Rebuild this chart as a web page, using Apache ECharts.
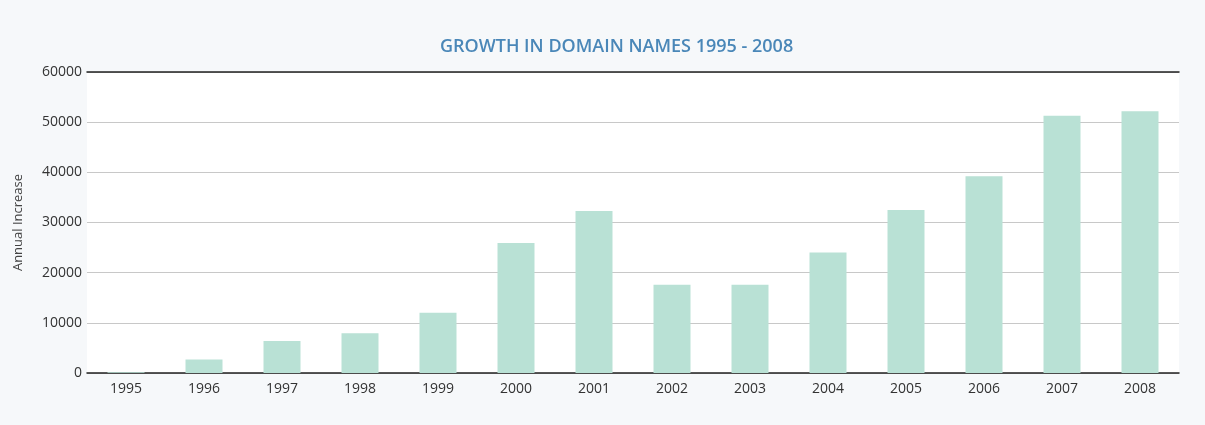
<!DOCTYPE html>
<html>
<head>
<meta charset="utf-8">
<script src="https://cdn.jsdelivr.net/npm/echarts@6/dist/echarts.min.js"></script>
<style>
  html, body { margin: 0; padding: 0; background: #f6f8fa; }
  #chart { width: 1205px; height: 425px; }
</style>
</head>
<body>
<div id="chart"></div>
<script>
var years = ['1995', '1996', '1997', '1998', '1999', '2000', '2001',
             '2002', '2003', '2004', '2005', '2006', '2007', '2008'];
var increase = [150, 2700, 6400, 7900, 12000, 25900, 32300,
                17600, 17600, 24000, 32500, 39200, 51300, 52200];

var chart = echarts.init(document.getElementById('chart'));

option = {
    backgroundColor: '#f6f8fa',
    textStyle: { fontFamily: 'Open Sans' },
    title: {
        text: 'GROWTH IN DOMAIN NAMES 1995 - 2008',
        left: 435,
        top: 33,
        textStyle: {
            color: '#4a87b8',
            fontSize: 18,
            fontWeight: 600,
            fontFamily: 'Open Sans'
        }
    },
    grid: {
        left: 87,
        right: 26,
        top: 72,
        bottom: 52,
        show: true,
        backgroundColor: '#ffffff',
        borderWidth: 0
    },
    xAxis: [
        {
            type: 'category',
            data: years,
            axisLine: { lineStyle: { color: '#222', width: 1.5 } },
            axisTick: { length: 5, lineStyle: { color: '#222' } },
            axisLabel: { color: '#333', fontSize: 14, margin: 9 }
        },
        {
            type: 'category',
            position: 'top',
            data: years,
            axisLine: { lineStyle: { color: '#222', width: 1.5 } },
            axisTick: { show: false },
            axisLabel: { show: false }
        }
    ],
    yAxis: {
        type: 'value',
        min: 0,
        max: 60000,
        interval: 10000,
        name: 'Annual Increase',
        nameLocation: 'middle',
        nameGap: 62,
        nameTextStyle: { color: '#444', fontSize: 13 },
        axisLine: { show: false },
        axisTick: { show: false },
        axisLabel: {
            color: '#333',
            fontSize: 14,
            margin: 5,
            formatter: function (v) { return String(v); }
        },
        splitLine: { lineStyle: { color: '#c8c8c8' } }
    },
    series: [
        {
            name: 'Annual Increase',
            type: 'bar',
            data: increase,
            barWidth: 37,
            itemStyle: { color: '#b9e1d5' }
        }
    ]
};
chart.setOption(option);
</script>
</body>
</html>
